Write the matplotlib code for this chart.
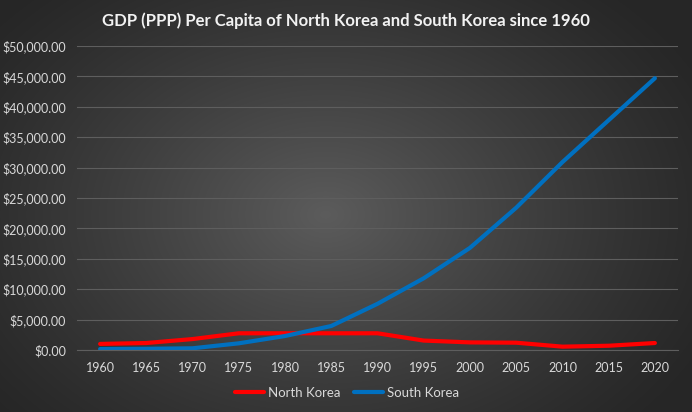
import matplotlib
matplotlib.use("Agg")
import matplotlib.pyplot as plt
import numpy as np
from matplotlib.ticker import FuncFormatter

years = [1960, 1965, 1970, 1975, 1980, 1985, 1990, 1995, 2000, 2005, 2010, 2015, 2020]
north_korea = [1000, 1150, 1800, 2750, 2750, 2750, 2750, 1550, 1250, 1200, 550, 700, 1150]
south_korea = [160, 200, 280, 1100, 2300, 3950, 7600, 11800, 16800, 23400, 30900, 37800, 44700]

plt.rcParams["font.family"] = ["Lato", "DejaVu Sans"]

W, H = 692, 412
fig = plt.figure(figsize=(W / 100, H / 100), dpi=100)

# radial gradient background (Excel dark style)
bg = fig.add_axes([0, 0, 1, 1], zorder=-10)
yy, xx = np.mgrid[0:H, 0:W]
cx, cy = W * 0.47, H * 0.52
r = np.sqrt(((xx - cx) / (W * 0.62)) ** 2 + ((yy - cy) / (H * 0.75)) ** 2)
r = np.clip(r, 0, 1)
lo, hi = 0.36, 0.15
val = hi + (lo - hi) * (1 - r) ** 1.2
bg.imshow(np.dstack([val, val, val]), aspect="auto", extent=[0, 1, 0, 1], origin="upper")
bg.set_axis_off()

ax = fig.add_axes([77 / W, 1 - 350 / H, (678 - 77) / W, (350 - 46) / H])
ax.patch.set_alpha(0)

ax.plot(years, north_korea, color="#ff0000", lw=3, label="North Korea", solid_capstyle="round")
ax.plot(years, south_korea, color="#0070c0", lw=3, label="South Korea", solid_capstyle="round")

ax.set_xlim(1957.5, 2022.5)
ax.set_ylim(0, 50000)
ax.set_xticks(years)
ax.set_yticks(np.arange(0, 50001, 5000))
ax.yaxis.set_major_formatter(FuncFormatter(lambda v, p: f"${v:,.2f}"))
ax.grid(axis="y", color="#5e5e5e", lw=0.8)
ax.set_axisbelow(True)
for s in ax.spines.values():
    s.set_visible(False)
ax.spines["bottom"].set_visible(True)
ax.spines["bottom"].set_color("#5e5e5e")
ax.tick_params(length=0, colors="#d9d9d9", labelsize=9, pad=9)
ax.tick_params(axis="y", pad=8)

fig.text(0.5 * (92 + 600) / W, 1 - 21 / H, "GDP (PPP) Per Capita of North Korea and South Korea since 1960",
         ha="center", va="center", color="#f2f2f2", fontsize=12, fontweight="bold")

leg = fig.legend(loc="center", bbox_to_anchor=(347 / W, 1 - 393 / H), ncol=2, frameon=False,
                 fontsize=9.5, labelcolor="#d9d9d9", handlelength=2.2, handletextpad=0.3,
                 columnspacing=1.0)

fig.savefig("out.png", dpi=100)
